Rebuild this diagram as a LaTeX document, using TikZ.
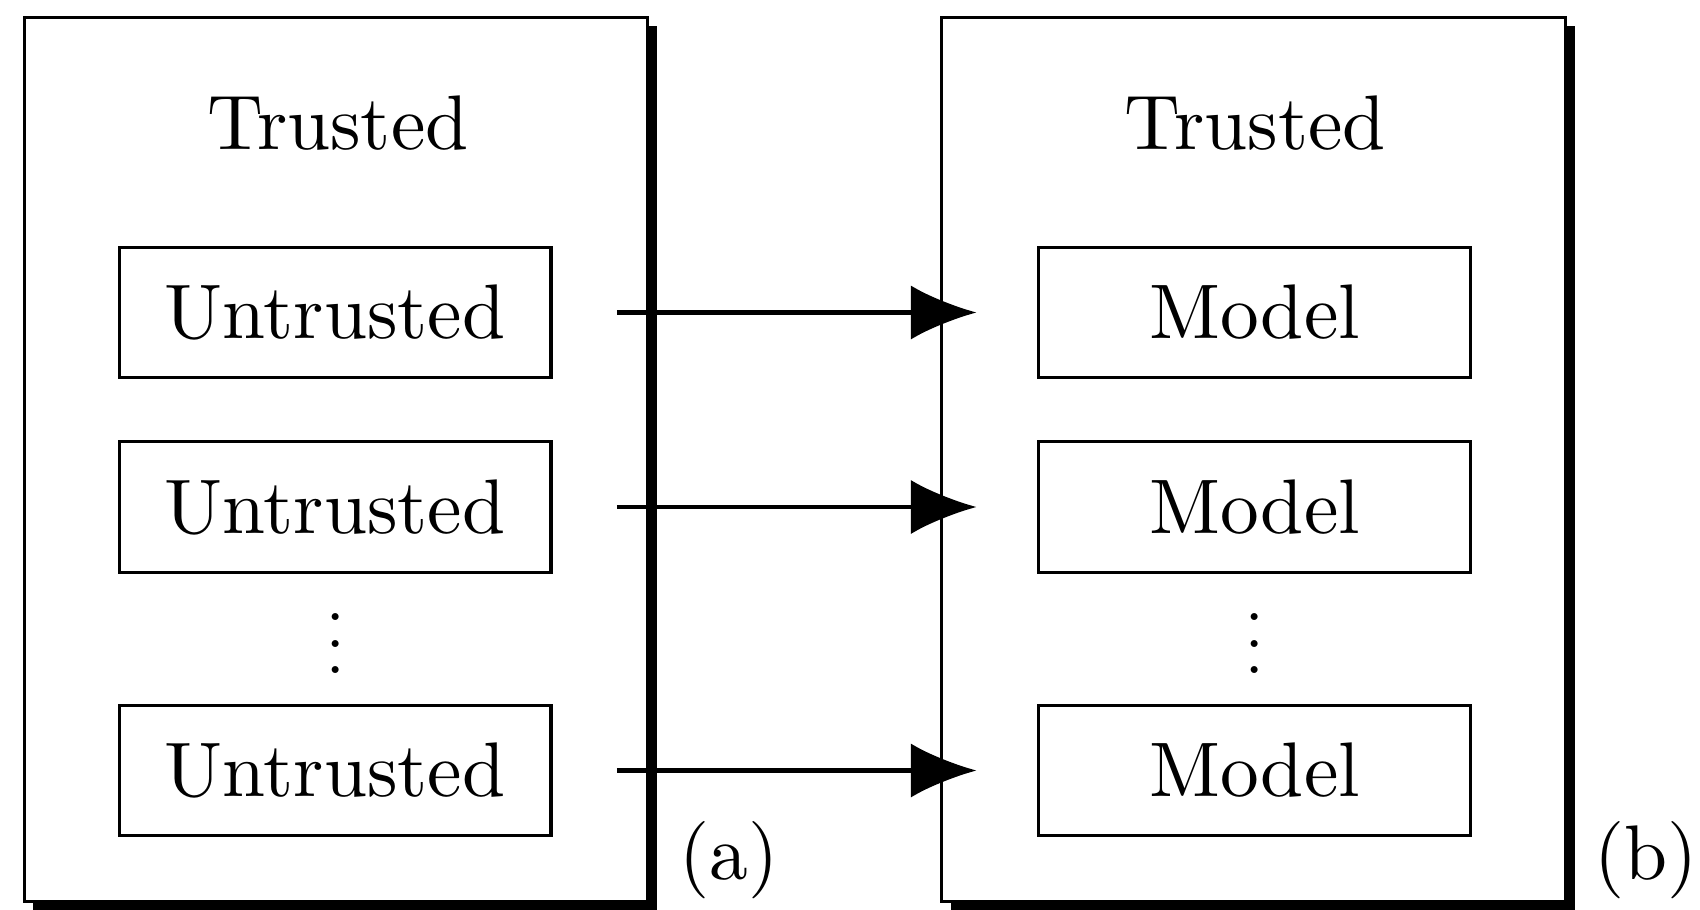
\documentclass[tikz,border=0pt]{standalone}
\usetikzlibrary{shadows,arrows.meta}
\begin{document}
\begin{tikzpicture}[x=0.1292pt,y=-0.1292pt,
  frame/.style={draw,fill=white,line width=0.4pt,minimum width=80.6pt,minimum height=114.3pt,inner sep=0pt,
     drop shadow={opacity=1,fill=black,shadow xshift=1.2pt,shadow yshift=-1.2pt}},
  item/.style={draw,fill=white,line width=0.4pt,minimum width=55.8pt,minimum height=16.9pt,inner sep=0pt},
  dotsnode/.style={scale=0.85,inner sep=0pt},
  conn/.style={line width=0.55pt,-{Latex[length=8.5pt,width=7pt]}}]
\useasboundingbox (0,0) rectangle (1700,909);
% two enclosing frames
\node[frame] (fa) at (336,459.5) {};
\node[frame] (fb) at (1253.5,459.5) {};
\node (ha) at (338,123) {Trusted};
\node (hb) at (1255,123) {Trusted};
% left column
\node[item] (u1) at (335,312.5) {Untrusted};
\node[item] (u2) at (335,507) {Untrusted};
\node[dotsnode] (da) at (336,624) {$\vdots$};
\node[item] (u3) at (335,770.5) {Untrusted};
% right column
\node[item] (m1) at (1254.5,312.5) {Model};
\node[item] (m2) at (1254.5,507) {Model};
\node[dotsnode] (db) at (1254.5,624) {$\vdots$};
\node[item] (m3) at (1254.5,770.5) {Model};
% labels
\node (la) at (729,860) {(a)};
\node (lb) at (1646,860) {(b)};
% connectors
\draw[conn] ([xshift=8.3pt]u1.east) -- ([xshift=-7.8pt]m1.west);
\draw[conn] ([xshift=8.3pt]u2.east) -- ([xshift=-7.8pt]m2.west);
\draw[conn] ([xshift=8.3pt]u3.east) -- ([xshift=-7.8pt]m3.west);
\end{tikzpicture}
\end{document}
